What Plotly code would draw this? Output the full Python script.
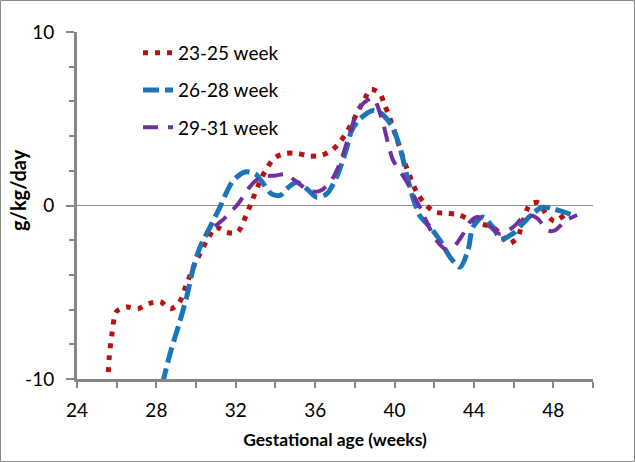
import plotly.graph_objects as go

# 23-25 week series
x_2325 = [25.55, 25.62, 25.75, 26.0, 26.5, 27.07, 27.63, 28.2, 28.72, 29.15, 29.5, 29.83, 30.1,
          30.65, 31.0, 31.54, 32.08, 32.4, 32.83, 33.3, 33.6, 33.95, 34.5, 35.1, 35.7, 36.33,
          36.86, 37.28, 37.62, 37.92, 38.47, 38.81, 39.26, 39.5, 39.73, 40.1, 40.49, 40.94,
          41.2, 41.57, 42.04, 42.63, 43.23, 43.76, 44.35, 44.92, 45.36, 45.75, 46.18, 46.4,
          46.82, 47.27, 47.62, 48.05, 48.55]
y_2325 = [-10.3, -8.8, -7.5, -6.1, -5.85, -5.95, -5.65, -5.55, -5.95, -5.6, -4.6, -3.65, -3.0,
          -1.8, -1.25, -1.55, -1.55, -0.9, 0.3, 1.6, 2.2, 2.75, 3.0, 3.0, 2.85, 2.9,
          3.2, 3.7, 4.3, 4.9, 6.1, 6.7, 6.45, 5.8, 5.15, 3.9, 2.55, 1.2,
          0.6, 0.05, -0.38, -0.45, -0.53, -0.8, -1.07, -1.22, -1.67, -2.2, -1.87, -1.2,
          0.06, 0.16, -0.45, -0.9, -0.55]

# 26-28 week series
x_2628 = [28.3, 28.7, 29.15, 29.52, 29.86, 30.2, 30.7, 31.2, 31.54, 31.87, 32.46, 32.97, 33.39,
          33.8, 34.23, 34.56, 35.07, 35.57, 36.08, 36.58, 37.08, 37.42, 37.59, 37.84, 38.26,
          38.93, 39.35, 39.85, 40.27, 40.6, 40.94, 41.28, 41.8, 42.3, 42.8, 43.3, 43.7, 43.95,
          44.45, 44.95, 45.36, 45.95, 46.45, 46.95, 47.45, 47.97, 48.55, 49.05]
y_2628 = [-10.3, -8.5, -6.8, -5.3, -3.6, -2.4, -1.25, -0.1, 0.77, 1.44, 1.93, 1.83, 1.25,
          0.67, 0.58, 0.96, 1.34, 0.96, 0.48, 0.67, 1.63, 2.7, 3.3, 4.32, 5.0,
          5.48, 5.28, 4.61, 3.36, 1.83, 0.4, -0.6, -1.25, -2.02, -2.98, -3.55, -2.59, -1.25,
          -0.67, -1.25, -1.92, -1.63, -1.05, -0.48, -0.1, -0.19, -0.38, -0.58]

# 29-31 week series
x_2931 = [30.95, 31.4, 31.8, 32.12, 32.63, 32.97, 33.3, 34.0, 34.5, 35.2, 35.65, 36.1, 36.4,
          36.85, 37.3, 37.75, 38.17, 38.5, 38.93, 39.1, 39.43, 39.68, 39.93, 40.36, 40.7, 41.0,
          41.37, 41.78, 42.12, 42.54, 42.96, 43.46, 43.8, 44.2, 44.55, 45.0, 45.3, 45.73, 46.07,
          46.49, 46.9, 47.2, 47.74, 48.08, 48.6, 49.2]
y_2931 = [-1.2, -0.77, -0.3, 0.1, 0.96, 1.4, 1.65, 1.73, 1.8, 1.25, 0.86, 0.8, 0.95,
          1.5, 2.6, 4.2, 5.55, 5.96, 6.2, 5.86, 4.71, 3.55, 2.6, 1.83, 1.2, 0.5,
          -0.3, -1.34, -2.02, -2.5, -2.4, -1.63, -0.95, -0.67, -0.96, -1.4, -1.63, -1.44, -1.15,
          -0.67, -0.58, -0.75, -1.44, -1.44, -0.9, -0.55]

series_names = ["23-25 week", "26-28 week", "29-31 week"]

x_tickvals = [24, 28, 32, 36, 40, 44, 48]
x_ticktext = ["24", "28", "32", "36", "40", "44", "48"]
y_tickvals = [-10, 0, 10]
y_ticktext = ["-10", "0", "10"]

FONT = "Lato"
AX = "#878787"

fig = go.Figure()
fig.add_trace(go.Scatter(x=x_2325, y=y_2325, mode="lines", name=series_names[0],
                         legendgroup="a",
                         line=dict(color="#B41414", width=5, dash="5px,7px", shape="spline", smoothing=0.8)))
fig.add_trace(go.Scatter(x=x_2628, y=y_2628, mode="lines", name=series_names[1],
                         legendgroup="b",
                         line=dict(color="#1B75BB", width=5, dash="16px,6px", shape="spline", smoothing=0.8)))
fig.add_trace(go.Scatter(x=x_2931, y=y_2931, mode="lines", name=series_names[2],
                         legendgroup="c",
                         line=dict(color="#7030A0", width=4, dash="15px,10px", shape="spline", smoothing=0.8)))

L, R, T, B = 77, 42, 32, 83
W, H = 635, 462
pw, ph = W - L - R, H - T - B

fig.update_layout(
    width=W, height=H,
    margin=dict(l=L, r=R, t=T, b=B),
    paper_bgcolor="white", plot_bgcolor="white",
    font=dict(family=FONT, size=19, color="black"),
    showlegend=True,
    legend=dict(x=(138 - L) / pw, y=(H - B - 34) / ph, xanchor="left", yanchor="top",
                bgcolor="rgba(255,255,255,0)", font=dict(size=19, family=FONT),
                tracegroupgap=9.5, itemwidth=30),
    xaxis=dict(range=[24, 50], tickmode="array", tickvals=x_tickvals, ticktext=x_ticktext,
               ticks="outside", ticklen=6, tickwidth=2, tickcolor=AX, ticklabelstandoff=6,
               minor=dict(dtick=2, tick0=24, ticks="outside", ticklen=6, tickwidth=2, tickcolor=AX),
               showline=True, linecolor=AX, linewidth=3, showgrid=False, zeroline=False,
               tickfont=dict(size=19, family=FONT),
               title=dict(text="<b>Gestational age (weeks)</b>", font=dict(size=17.5, family=FONT), standoff=14)),
    yaxis=dict(range=[-10, 10], tickmode="array", tickvals=y_tickvals, ticktext=y_ticktext,
               ticks="outside", ticklen=8, tickwidth=2, tickcolor=AX, ticklabelstandoff=8,
               minor=dict(dtick=2, tick0=-10, ticks="outside", ticklen=5, tickwidth=2, tickcolor=AX, showgrid=False),
               showline=True, linecolor=AX, linewidth=3, showgrid=True, gridcolor="#8e8e8e", gridwidth=1,
               zeroline=False, tickfont=dict(size=19, family=FONT)),
    shapes=[dict(type="rect", xref="paper", yref="paper",
                 x0=(0.5 - L) / pw, x1=(W - 0.5 - L) / pw,
                 y0=-(B - 0.5) / ph, y1=1 + (T - 0.5) / ph,
                 line=dict(color="#8a8a8a", width=1), fillcolor="rgba(0,0,0,0)", layer="below")],
    annotations=[dict(text="<b>g/kg/day</b>", textangle=-90, xref="paper", yref="paper",
                      x=(18 - L) / pw, y=(H - B - 190) / ph, xanchor="center", yanchor="middle",
                      showarrow=False, font=dict(size=20, family=FONT))],
)

fig.write_html("out.html", config={"displayModeBar": False},
               post_script="document.body.style.margin='0';document.body.style.padding='0';")
